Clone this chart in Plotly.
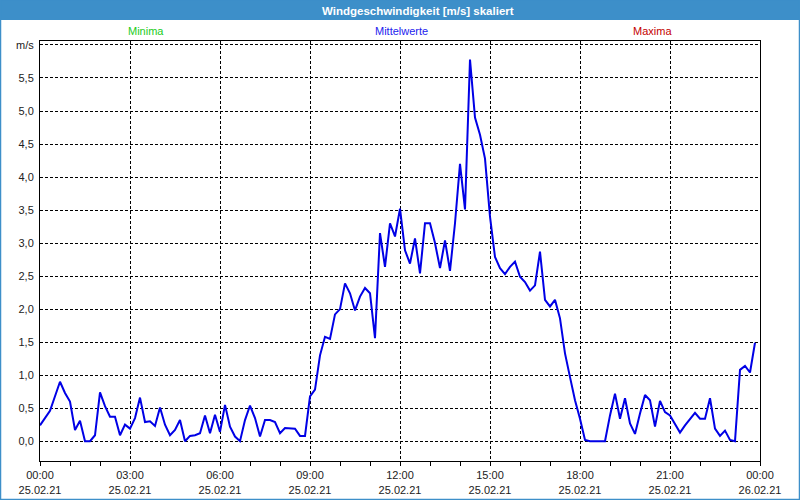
import plotly.graph_objects as go
import pandas as pd

# ---- data (10-minute means, m/s) ----
start_time = "2021-02-25 00:00"
interval = "10min"
wind_mean = [
    0.24, 0.36, 0.46, 0.68, 0.90, 0.73, 0.60, 0.17, 0.31, 0.00,
    0.00, 0.09, 0.74, 0.53, 0.37, 0.37, 0.09, 0.25, 0.19, 0.35,
    0.66, 0.29, 0.30, 0.23, 0.51, 0.25, 0.09, 0.17, 0.32, 0.00,
    0.08, 0.09, 0.12, 0.39, 0.12, 0.40, 0.14, 0.55, 0.22, 0.07,
    0.00, 0.32, 0.54, 0.35, 0.07, 0.32, 0.32, 0.29, 0.12, 0.20,
    0.20, 0.19, 0.08, 0.08, 0.68, 0.78, 1.30, 1.58, 1.55, 1.92,
    2.00, 2.39, 2.24, 1.98, 2.19, 2.32, 2.24, 1.56, 3.15, 2.64,
    3.30, 3.10, 3.52, 2.89, 2.69, 3.07, 2.54, 3.30, 3.30, 3.00,
    2.62, 3.04, 2.58, 3.30, 4.20, 3.51, 5.78, 4.90, 4.64, 4.28,
    3.40, 2.79, 2.62, 2.53, 2.64, 2.72, 2.49, 2.41, 2.28, 2.36,
    2.87, 2.14, 2.04, 2.14, 1.86, 1.33, 0.97, 0.62, 0.34, 0.02,
    0.00, 0.00, 0.00, 0.00, 0.39, 0.72, 0.34, 0.65, 0.27, 0.11,
    0.42, 0.70, 0.62, 0.22, 0.61, 0.44, 0.39, 0.27, 0.13, 0.24,
    0.34, 0.43, 0.34, 0.34, 0.65, 0.19, 0.08, 0.16, 0.02, 0.00,
    1.08, 1.14, 1.04, 1.49,
]
times = pd.date_range(start_time, periods=len(wind_mean), freq=interval)

x_tick_vals = pd.date_range("2021-02-25 00:00", "2021-02-26 00:00", freq="3h")
x_tick_text = ["00:00<br>25.02.21", "03:00<br>25.02.21", "06:00<br>25.02.21",
               "09:00<br>25.02.21", "12:00<br>25.02.21", "15:00<br>25.02.21",
               "18:00<br>25.02.21", "21:00<br>25.02.21", "00:00<br>26.02.21"]
y_tick_vals = [0.0, 0.5, 1.0, 1.5, 2.0, 2.5, 3.0, 3.5, 4.0, 4.5, 5.0, 5.5, 6.0]
y_tick_text = ["0,0", "0,5", "1,0", "1,5", "2,0", "2,5", "3,0", "3,5",
               "4,0", "4,5", "5,0", "5,5", "m/s"]

title_text = "Windgeschwindigkeit [m/s] skaliert"
legend_labels = ["Minima", "Mittelwerte", "Maxima"]
legend_colors = ["#22cc22", "#2222ee", "#c40000"]

# ---- layout geometry (pixels) ----
W, H = 800, 500
L, R, T, B = 40, 760, 41, 461


def px(x):
    return (x - L) / (R - L)


def py(y):
    return (B - y) / (B - T)


fig = go.Figure()
fig.add_trace(go.Scatter(
    x=times, y=wind_mean, mode="lines",
    line=dict(color="#0000e6", width=2),
    showlegend=False, hoverinfo="skip",
))

shapes = [
    # title bar
    dict(type="rect", xref="paper", yref="paper",
         x0=px(0), x1=px(W), y0=py(20), y1=py(0),
         fillcolor="#3d8fc9", line=dict(width=0), layer="below"),
    # window frame
    dict(type="rect", xref="paper", yref="paper",
         x0=px(0.5), x1=px(W - 0.5), y0=py(H - 0.5), y1=py(0),
         line=dict(color="#3d8fc9", width=1.5), fillcolor="rgba(0,0,0,0)"),
]

annotations = [
    dict(text="<b>" + title_text + "</b>", xref="paper", yref="paper",
         x=px(418), y=py(10.5), showarrow=False, xanchor="center", yanchor="middle",
         font=dict(family="Liberation Sans", size=11.5, color="white")),
]
for lab, col, xc in zip(legend_labels, legend_colors, [146, 401, 652]):
    annotations.append(dict(text=lab, xref="paper", yref="paper",
                            x=px(xc), y=py(31), showarrow=False,
                            xanchor="center", yanchor="middle",
                            font=dict(family="Liberation Sans", size=11, color=col)))

fig.update_layout(
    width=W, height=H,
    margin=dict(l=L, r=W - R, t=T, b=H - B, pad=0, autoexpand=False),
    paper_bgcolor="white", plot_bgcolor="white",
    font=dict(family="Liberation Sans", size=11, color="#222222"),
    shapes=shapes, annotations=annotations,
    xaxis=dict(
        range=["2021-02-25 00:00", "2021-02-26 00:00"],
        tickmode="array", tickvals=x_tick_vals, ticktext=x_tick_text,
        showgrid=True, gridcolor="black", gridwidth=1, griddash="3px,2px",
        ticks="outside", ticklen=4, tickcolor="black", tickwidth=1,
        minor=dict(dtick=3600000, ticks="outside", ticklen=4,
                   tickcolor="black", showgrid=False),
        showline=True, linecolor="black", linewidth=1, mirror=True,
        zeroline=False, fixedrange=True, automargin=False,
    ),
    yaxis=dict(
        range=[-0.3, 6.06],
        tickmode="array", tickvals=y_tick_vals, ticktext=y_tick_text,
        showgrid=True, gridcolor="black", gridwidth=1, griddash="3px,2px",
        ticks="", ticklabelstandoff=3,
        showline=True, linecolor="black", linewidth=1, mirror=True,
        zeroline=False, fixedrange=True, automargin=False,
    ),
)

fig.write_html("out.html")
